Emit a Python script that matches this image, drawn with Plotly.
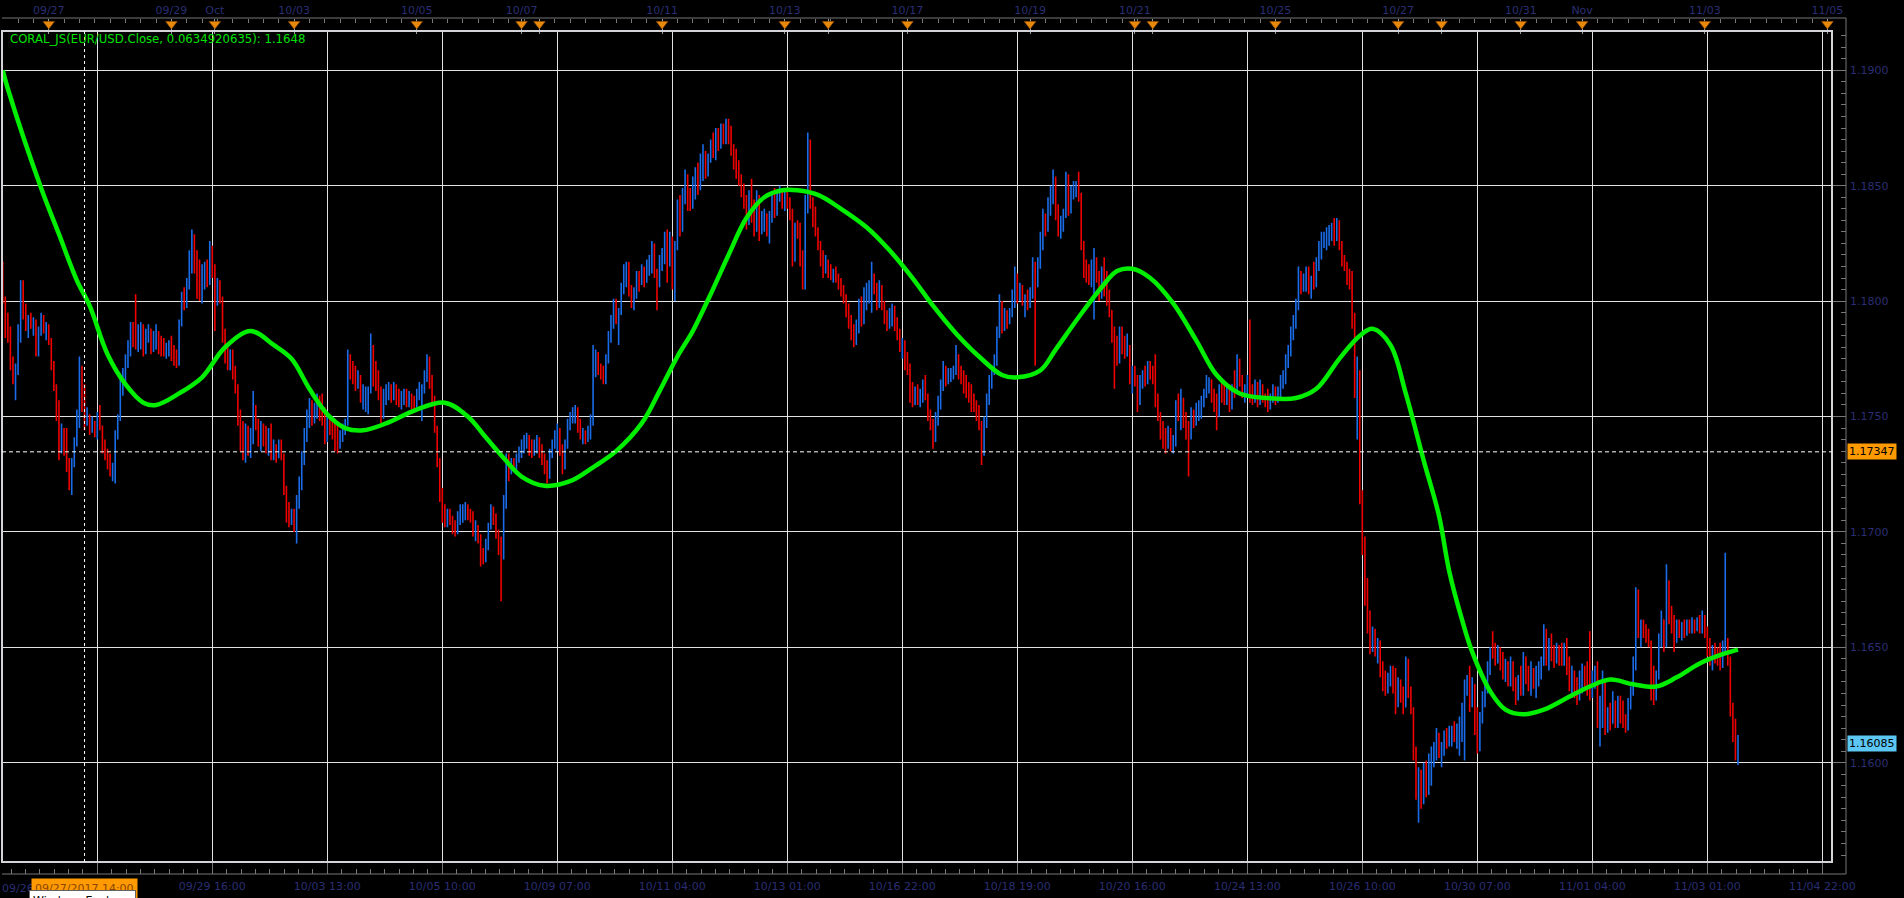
import plotly.graph_objects as go

# ---------------- data (prices in pips above 1.1000) ----------------
BASE = 1.1000
PIP = 0.0001
OPEN_FIRST = 815

LOW = [
799,784,782,770,764,757,768,782,792,787, 784,788,785,776,776,785,786,783,781,770,
761,748,731,734,733,726,718,716,728,737, 745,752,744,746,742,743,741,740,744,734,
731,727,724,722,721,740,748,759,765,771, 776,780,779,778,779,776,777,782,777,778,
779,777,776,776,775,776,774,772,771,772, 789,796,797,805,812,812,801,800,799,805,
806,807,810,787,798,799,782,773,770,770, 766,760,746,735,731,730,733,732,738,744,
737,735,737,734,733,731,731,730,732,731, 716,704,702,703,700,695,710,718,729,739,
745,746,747,749,748,746,738,739,742,740, 735,734,736,739,742,746,766,764,761,762,
756,753,752,751,760,763,761,757,747,749, 755,757,756,757,755,754,753,755,754,754,
753,752,753,757,748,760,765,762,756,743, 728,713,704,702,702,703,699,698,699,703,
704,705,705,704,698,696,695,685,686,687, 692,701,703,697,690,670,688,710,722,725,
726,727,730,732,734,736,733,732,733,734, 732,729,725,721,723,732,736,735,733,725,
727,736,744,747,747,743,740,738,738,739, 740,746,767,768,766,764,764,773,782,788,
790,781,794,803,806,802,797,796,801,804, 807,806,808,811,812,810,796,806,813,816,
808,815,805,800,822,828,830,842,839,839, 840,844,846,848,852,853,854,860,862,861,
865,866,868,868,868,863,857,853,850,845, 840,831,833,834,828,830,826,829,830,828,
825,834,836,837,843,840,839,840,835,815, 817,827,815,805,805,838,840,832,828,822,
815,810,812,810,809,808,808,805,802,799, 793,788,783,780,781,786,789,790,796,799,
795,803,796,797,796,790,787,788,789,787, 783,778,775,770,768,756,754,755,755,754,
756,757,748,744,736,739,746,753,761,763, 764,765,766,768,766,764,760,758,756,752,
752,748,744,729,733,745,755,762,768,772, 784,786,787,788,790,793,797,799,800,798,
793,796,797,801,772,806,814,822,828,830, 837,842,835,828,827,830,836,837,838,844,
845,843,822,810,808,807,806,792,808,800, 801,802,798,793,782,762,772,773,777,775,
776,764,760,763,752,755,762,763,764,766, 764,754,748,740,736,734,736,735,734,737,
748,744,745,740,724,740,745,746,748,749, 754,758,760,756,752,744,750,756,755,755,
752,753,758,760,763,758,756,758,756,755, 756,754,755,756,754,752,753,756,755,756,
758,762,764,771,776,783,788,796,803,804, 804,803,801,805,806,813,818,823,822,824,
826,824,826,822,815,813,807,805,788,758, 740,712,690,668,656,647,648,646,643,637,
631,629,630,633,630,621,624,626,621,624, 628,621,601,584,574,580,582,585,586,590,
598,601,602,598,603,606,607,607,609,606, 603,609,601,629,622,624,612,604,605,617,
624,630,638,645,642,643,640,636,635,633, 633,631,625,627,629,629,634,631,629,632,
628,633,636,642,642,640,644,641,643,642, 642,642,638,631,628,628,625,627,630,632,
629,627,628,632,615,607,615,612,613,614, 617,615,615,617,615,613,614,623,629,640,
654,650,654,652,650,627,625,627,636,650, 648,650,660,656,648,652,654,653,654,655,
656,656,656,657,656,656,654,646,642,640, 643,642,640,641,648,642,620,609,601,599,
]

HIGH = [
817,802,795,789,776,773,790,809,809,799, 794,795,793,792,789,795,794,791,790,784,
774,764,757,747,745,745,732,732,741,753, 776,772,764,754,751,750,748,752,755,746,
740,736,734,730,744,751,766,771,777,783, 791,791,803,790,791,790,788,790,788,787,
790,787,785,784,782,783,785,781,779,792, 804,806,810,822,831,829,822,818,816,817,
818,826,824,816,810,809,802,788,780,779, 779,772,764,753,748,747,746,745,761,755,
749,748,747,746,745,747,740,738,740,740, 734,720,713,710,710,716,724,735,745,753,
758,757,756,760,759,760,754,751,749,748, 749,746,744,747,749,779,777,774,772,770,
768,764,763,763,786,781,774,770,763,762, 764,765,764,765,764,762,761,762,762,761,
760,759,762,765,764,770,777,776,768,759, 746,732,719,712,710,710,707,705,709,712,
712,713,712,710,709,705,703,699,693,697, 704,712,711,708,701,698,716,734,734,732,
732,734,737,740,742,743,742,740,740,742, 741,738,734,731,736,740,744,747,745,738,
740,749,752,754,755,754,749,745,744,746, 751,781,779,778,773,772,777,787,794,801,
801,797,808,816,817,817,807,806,813,813, 816,815,818,820,826,825,814,820,823,830,
831,830,828,826,844,846,849,857,855,849, 854,858,860,864,868,865,864,870,873,875,
875,877,877,879,879,876,868,866,861,855, 851,846,848,853,844,848,846,839,840,838,
839,846,849,848,850,849,849,848,845,840, 834,835,834,822,846,873,870,845,841,832,
826,822,820,818,816,814,815,812,810,807, 803,799,794,790,792,801,802,806,808,809,
817,812,808,809,807,800,796,797,799,798, 793,788,784,783,778,773,765,763,764,762,
766,768,760,753,749,752,759,766,774,772, 771,771,772,781,777,772,770,768,765,764,
760,757,755,748,750,760,768,772,777,789, 803,800,797,796,797,805,815,812,808,807,
803,805,806,819,817,819,830,840,838,845, 850,857,854,842,837,840,856,855,850,852,
852,856,847,826,818,816,818,823,819,813, 815,819,813,805,796,789,785,789,789,785,
786,781,772,772,768,768,770,772,774,774, 772,777,760,752,748,745,746,745,742,757,
760,762,758,752,748,754,753,756,757,759, 762,768,767,766,762,760,764,766,764,763,
764,764,770,777,775,768,764,768,792,764, 766,765,766,764,760,762,760,764,763,763,
768,770,777,781,789,794,801,815,813,812, 815,815,811,817,819,826,830,830,832,833,
834,836,836,835,826,820,817,814,813,795, 776,770,718,698,680,666,659,658,654,653,
644,640,639,642,642,641,637,636,633,646, 645,633,624,607,598,597,600,601,604,607,
609,615,613,609,614,615,616,616,618,617, 620,626,636,638,642,637,634,624,622,631,
636,644,650,657,652,651,650,648,645,644, 646,644,637,638,642,648,646,642,644,641,
642,644,646,660,658,654,656,651,652,651, 652,652,654,646,642,640,637,640,643,642,
644,657,640,642,644,629,640,636,624,626, 631,627,629,629,627,621,628,633,646,676,
675,662,662,660,658,653,642,640,656,666, 662,686,679,668,664,662,662,661,662,662,
662,663,662,663,664,666,664,659,654,651, 652,650,652,653,691,654,646,626,619,612,
]

CLOSE = [
801,788,784,772,766,771,788,805,798,790, 792,789,791,778,787,793,788,789,783,772,
763,750,738,742,736,728,721,730,739,750, 770,755,747,748,744,746,743,750,746,737,
733,729,726,728,741,749,762,768,772,779, 788,782,780,787,789,778,786,788,780,781,
786,779,778,777,780,782,776,774,773,790, 801,799,808,818,826,820,805,803,812,814,
809,822,812,800,806,801,785,776,773,775, 768,762,748,738,735,743,736,741,752,747,
740,745,739,736,742,734,737,732,738,733, 718,707,704,706,702,713,721,731,742,749,
751,748,754,757,750,748,741,747,744,742, 738,737,740,745,747,775,768,766,763,767,
758,760,761,762,774,766,764,760,750,758, 760,763,758,762,757,756,759,760,756,758,
755,754,760,762,763,768,773,764,758,745, 730,716,707,704,708,705,701,700,707,709,
710,711,707,706,700,702,697,688,687,695, 702,709,705,699,693,690,713,729,727,730,
728,732,735,738,740,741,735,734,736,739, 734,731,727,724,734,738,742,744,735,728,
738,746,750,752,753,745,742,743,742,744, 748,776,777,771,768,766,775,784,791,797,
793,795,806,813,815,805,799,802,810,808, 814,809,816,818,823,812,808,818,821,827,
822,826,810,823,840,832,846,850,842,841, 851,855,849,861,864,856,862,868,866,872,
867,874,870,876,871,865,859,856,852,848, 843,834,845,837,832,844,830,836,838,831,
836,843,839,846,848,842,846,842,838,819, 830,829,818,808,842,866,843,835,830,825,
817,813,816,812,811,813,810,807,804,801, 795,790,786,783,789,798,792,803,805,807,
810,805,799,806,798,792,789,795,797,790, 785,780,782,773,770,760,757,761,758,760,
762,759,750,746,740,749,756,763,770,766, 769,770,771,776,768,766,763,760,758,755,
754,750,746,735,747,757,765,770,775,786, 799,789,794,791,795,802,810,802,806,800,
801,798,804,815,808,816,826,836,832,842, 847,852,838,831,834,837,852,840,846,849,
850,845,825,813,811,809,816,818,811,803, 812,805,801,796,785,775,774,786,780,778,
779,767,769,765,756,765,768,765,771,768, 766,758,750,743,739,737,743,738,740,755,
751,758,748,743,741,750,747,753,755,757, 760,765,766,759,755,750,761,758,757,761,
754,762,761,773,766,760,762,765,759,757, 763,757,762,758,756,754,758,762,757,761,
765,767,773,778,785,790,798,811,806,809, 812,805,809,807,816,822,827,828,829,831,
832,827,834,824,817,815,810,808,792,760, 768,716,694,672,660,650,656,650,652,640,
634,631,637,640,632,625,634,628,624,643, 631,623,605,588,594,584,596,588,600,603,
605,611,605,607,611,608,612,614,611,615, 617,623,632,636,626,634,616,608,619,628,
633,641,648,647,644,646,642,638,642,636, 643,634,628,636,632,645,637,633,640,635,
639,641,644,655,646,651,647,644,649,645, 644,650,641,634,639,631,628,637,639,635,
632,629,637,639,618,625,636,616,621,617, 622,619,627,624,618,615,626,631,642,672,
656,660,657,655,652,631,628,637,652,662, 651,675,665,663,652,660,656,659,657,660,
658,661,658,661,659,662,657,649,645,647, 645,644,642,650,652,644,624,612,604,608,
]

# CORAL_JS indicator, read at sample bars
GREEN_BAR = [0, 2, 15, 22, 29, 34, 41, 48, 55, 60, 69, 78, 87, 97, 106, 113, 120, 127, 134, 141,
             150, 162, 173, 182, 189, 196, 203, 212, 222, 231, 240, 250, 257, 264, 270, 277, 284,
             291, 298, 305, 311, 319, 328, 338, 347, 356, 364, 373, 382, 391, 397, 406, 412, 421,
             430, 436, 442, 449, 458, 467, 475, 484, 495, 506, 514, 523, 531, 536, 543, 549, 556,
             562, 566, 571, 575, 582, 588, 595, 603, 612, 621, 629, 638, 647, 655, 664, 673, 679]
GREEN_PIPS = [900, 892, 849, 829, 809, 798, 777, 764, 756, 755, 760, 767, 780, 787, 781, 775, 762,
              751, 745, 744, 747, 753, 756, 750, 741, 732, 724, 720, 722, 728, 735, 747, 761, 776,
              787, 803, 820, 836, 845, 848, 848, 846, 840, 832, 822, 810, 798, 786, 776, 768, 767,
              770, 779, 793, 806, 813, 814, 810, 799, 783, 768, 760, 758, 758, 762, 775, 785, 788,
              781, 760, 731, 707, 683, 662, 648, 631, 623, 621, 623, 628, 633, 636, 634, 633, 637,
              643, 647, 649]

GRID_BARS = [37, 82, 127, 172, 217, 262, 307, 352, 397, 442, 487, 532, 577, 622, 667, 712]
# the first grid label sits under the crosshair's time box in the reference, so it is blank
GRID_LABELS = ["", "09/29 16:00", "10/03 13:00", "10/05 10:00", "10/09 07:00",
               "10/11 04:00", "10/13 01:00", "10/16 22:00", "10/18 19:00", "10/20 16:00",
               "10/24 13:00", "10/26 10:00", "10/30 07:00", "11/01 04:00", "11/03 01:00",
               "11/04 22:00"]
EVENT_BARS = [18, 66, 83, 114, 162, 203, 210, 258, 306, 323, 354, 402, 443, 450, 498, 546, 563,
              594, 618, 666, 714]
EVENT_LABELS = ["09/27", "09/29", "Oct", "10/03", "10/05", "10/07", "", "10/11", "10/13", "",
                "10/17", "10/19", "10/21", "", "10/25", "10/27", "", "10/31", "Nov", "11/03",
                "11/05"]
PRICE_TICKS = [1.1600, 1.1650, 1.1700, 1.1750, 1.1800, 1.1850, 1.1900]
CROSSHAIR_BAR = 32
CROSSHAIR_PRICE = 1.17347
LAST_PRICE = 1.16085
CROSSHAIR_TIME = "09/27/2017 14:00"
FIRST_TIME_LABEL = "09/26"
INDICATOR_TEXT = "CORAL_JS(EUR/USD.Close, 0.0634920635): 1.1648"

# ---------------- layout geometry (pixels) ----------------
W, H = 1904, 898
PL, PR, PT, PB = 2, 1846, 0, 874          # paper area
FRAME_R, FRAME_T, FRAME_B = 1832, 31, 862  # chart frame
TOP_AXIS_Y = 18


def px_x(x):
    return (x - PL) / (PR - PL)


def px_y(y):
    return (PB - y) / (PB - PT)


X_RANGE = [-0.29, 715.78]
Y_RANGE = [1.155698, 1.191703]

NAVY = "#2a2e72"
GRID = "#e2e2e2"
TICK = "#777777"
FONT = "DejaVu Sans"

to_price = lambda v: round(BASE + v * PIP, 5)
n = len(CLOSE)
bars = list(range(n))
opens = [OPEN_FIRST] + CLOSE[:-1]

fig = go.Figure()
fig.add_trace(go.Ohlc(
    x=bars,
    open=[to_price(v) for v in opens],
    high=[to_price(v) for v in HIGH],
    low=[to_price(v) for v in LOW],
    close=[to_price(v) for v in CLOSE],
    increasing=dict(line=dict(color="#1a6ce8", width=1.6)),
    decreasing=dict(line=dict(color="#f00000", width=1.6)),
    tickwidth=0.2, hoverinfo="skip", showlegend=False,
))
fig.add_trace(go.Scatter(
    x=GREEN_BAR, y=[to_price(v) for v in GREEN_PIPS], mode="lines",
    line=dict(color="#00ee00", width=4.5, shape="spline", smoothing=1.0),
    hoverinfo="skip", showlegend=False,
))
fig.add_trace(go.Scatter(
    x=EVENT_BARS, y=[24] * len(EVENT_BARS), xaxis="x2", yaxis="y2", mode="markers",
    marker=dict(symbol="triangle-down", size=10, color="#e8890c",
                line=dict(color="#9c5200", width=0.6)),
    cliponaxis=False, hoverinfo="skip", showlegend=False,
))

XD = [0, px_x(FRAME_R)]
fig.update_layout(
    width=W, height=H,
    margin=dict(l=PL, r=W - PR, t=PT, b=H - PB, pad=0),
    paper_bgcolor="#000000", plot_bgcolor="#000000",
    showlegend=False, hovermode=False,
    font=dict(family=FONT, size=11, color=NAVY),
    xaxis=dict(
        domain=XD, range=X_RANGE, anchor="free", position=0,
        tickmode="array", tickvals=GRID_BARS, ticktext=GRID_LABELS, tickangle=0,
        ticks="inside", ticklen=12, tickwidth=1, tickcolor=TICK,
        showgrid=True, gridcolor=GRID, gridwidth=1, zeroline=False, showline=False,
        ticklabelstandoff=4, tickfont=dict(family=FONT, size=11, color=NAVY),
        rangeslider=dict(visible=False), fixedrange=True,
        minor=dict(tickmode="linear", tick0=37, dtick=5.625, ticks="inside",
                   ticklen=5, tickcolor=TICK, showgrid=False),
    ),
    xaxis2=dict(
        domain=XD, range=X_RANGE, anchor="free", position=px_y(TOP_AXIS_Y), side="top",
        tickmode="array", tickvals=EVENT_BARS, ticktext=EVENT_LABELS, tickangle=0,
        ticks="inside", ticklen=15, tickwidth=1, tickcolor="#9a9a9a",
        showgrid=False, zeroline=False, showline=False, layer="below traces",
        ticklabelstandoff=2, tickfont=dict(family=FONT, size=11, color=NAVY),
        fixedrange=True,
        minor=dict(tickmode="linear", tick0=0, dtick=6, ticks="inside",
                   ticklen=4, tickcolor=TICK, showgrid=False),
    ),
    yaxis=dict(
        domain=[px_y(FRAME_B), px_y(FRAME_T)], range=Y_RANGE, side="right",
        anchor="free", position=1,
        tickmode="array", tickvals=PRICE_TICKS, ticktext=[f"{v:.4f}" for v in PRICE_TICKS],
        ticks="inside", ticklen=13, tickwidth=1, tickcolor=TICK,
        showgrid=True, gridcolor=GRID, gridwidth=1, zeroline=False, showline=False,
        ticklabelstandoff=3, tickfont=dict(family=FONT, size=11, color=NAVY),
        fixedrange=True,
        minor=dict(tickmode="linear", tick0=1.16, dtick=0.0005, ticks="inside",
                   ticklen=5, tickcolor=TICK, showgrid=False),
    ),
    yaxis2=dict(
        domain=[px_y(FRAME_T), 1], range=[FRAME_T, 0], visible=False,
        anchor="free", position=0, fixedrange=True,
    ),
)

shapes = [
    # chart frame
    dict(type="rect", xref="x domain", yref="y domain", x0=0, x1=1, y0=0, y1=1,
         line=dict(color="#d4d4d8", width=2), layer="above"),
    # axis lines
    dict(type="line", xref="paper", yref="paper", x0=0, x1=1, y0=0, y1=0,
         line=dict(color=TICK, width=1)),
    dict(type="line", xref="paper", yref="paper", x0=0, x1=1,
         y0=px_y(TOP_AXIS_Y), y1=px_y(TOP_AXIS_Y), line=dict(color=TICK, width=1)),
    dict(type="line", xref="paper", yref="paper", x0=1, x1=1, y0=0, y1=px_y(TOP_AXIS_Y),
         line=dict(color=TICK, width=1)),
    # crosshair
    dict(type="line", xref="x", yref="y domain", x0=CROSSHAIR_BAR, x1=CROSSHAIR_BAR,
         y0=0, y1=1, line=dict(color="#ffffff", width=1, dash="3px,3px")),
    dict(type="line", xref="x domain", yref="y", x0=0, x1=1, y0=CROSSHAIR_PRICE,
         y1=CROSSHAIR_PRICE, line=dict(color="#ffffff", width=1, dash="4px,3px")),
]

annotations = [
    dict(text=INDICATOR_TEXT, xref="paper", yref="paper", x=px_x(8), y=px_y(39),
         xanchor="left", yanchor="middle", showarrow=False,
         font=dict(family=FONT, size=11.7, color="#00e000")),
    dict(text=f"{CROSSHAIR_PRICE:.5f}", xref="paper", yref="y", x=px_x(1847), y=CROSSHAIR_PRICE,
         xanchor="left", yanchor="middle", showarrow=False, bgcolor="#ff9900", borderpad=1,
         font=dict(family=FONT, size=11, color="#000000")),
    dict(text=f"{LAST_PRICE:.5f}", xref="paper", yref="y", x=px_x(1847), y=LAST_PRICE,
         xanchor="left", yanchor="middle", showarrow=False, bgcolor="#5cc6f5", borderpad=1,
         font=dict(family=FONT, size=11, color="#000000")),
    dict(text=FIRST_TIME_LABEL, xref="paper", yref="paper", x=px_x(0), y=px_y(888),
         xanchor="left", yanchor="middle", showarrow=False,
         font=dict(family=FONT, size=11, color=NAVY)),
    dict(text=CROSSHAIR_TIME, xref="x", yref="paper", x=CROSSHAIR_BAR, y=px_y(888),
         xanchor="center", yanchor="middle", showarrow=False, bgcolor="#ff9a00", borderpad=3,
         font=dict(family=FONT, size=11, color="#8a4500")),
    dict(text="Windows Explorer", xref="paper", yref="paper", x=px_x(29), y=px_y(890),
         xanchor="left", yanchor="top", showarrow=False, bgcolor="#ffffff",
         bordercolor="#646464", borderwidth=1, borderpad=3,
         font=dict(family=FONT, size=11, color="#000000")),
]

fig.update_layout(shapes=shapes, annotations=annotations)

fig.write_html("out.html")
